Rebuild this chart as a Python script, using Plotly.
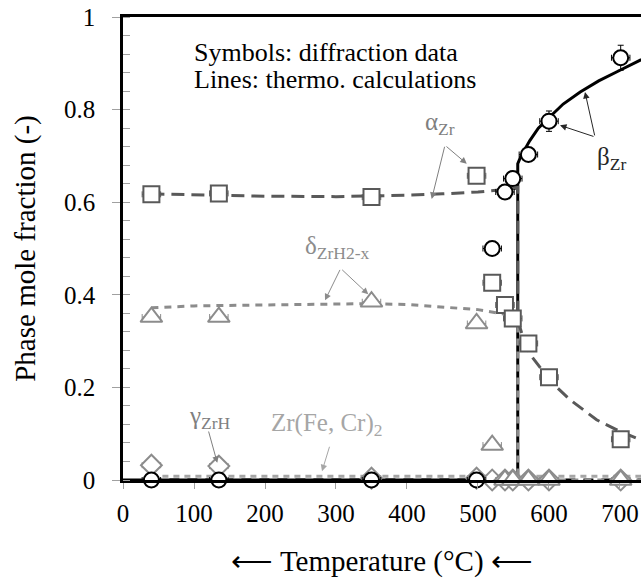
import plotly.graph_objects as go

# ---------------- data ----------------
# Diffraction data (symbols)
beta_T = [40, 135, 350, 498, 520, 538, 549, 571, 600, 701]
beta_f = [0.0, 0.0, 0.0, 0.0, 0.50, 0.622, 0.651, 0.703, 0.775, 0.912]
beta_ey = [0.0, 0.0, 0.0, 0.0, 0.0, 0.0, 0.0, 0.0, 0.022, 0.027]

alpha_T = [40, 135, 350, 498, 520, 538, 549, 571, 600, 701]
alpha_f = [0.617, 0.619, 0.611, 0.657, 0.426, 0.378, 0.349, 0.295, 0.222, 0.088]

delta_T = [40, 135, 350, 498, 520, 538, 549, 571, 600, 701]
delta_f = [0.352, 0.352, 0.385, 0.338, 0.0755, 0.0, 0.0, 0.0, 0.0, 0.0]

gamma_T = [40, 135, 350, 498, 520, 538, 549, 571, 600, 701]
gamma_f = [0.032, 0.030, 0.004, 0.004, 0.0, 0.0, 0.0, 0.0, 0.0, 0.0]

temp_err = [13, 13, 13, 13, 13, 13, 13, 13, 13, 13]

# Thermodynamic calculations (lines)
beta_calc_T = [0, 556, 556, 560, 573, 585, 601, 620, 644, 670, 700, 730]
beta_calc_f = [0, 0, 0.683, 0.698, 0.733, 0.760, 0.784, 0.812, 0.838, 0.862, 0.885, 0.908]

alpha_calc_T = [40, 100, 200, 300, 350, 400, 450, 500, 540, 556, 556, 565, 575, 590, 611, 630, 667, 700, 730]
alpha_calc_f = [0.618, 0.616, 0.613, 0.612, 0.613, 0.615, 0.618, 0.622, 0.628, 0.632,
                0.345, 0.300, 0.268, 0.238, 0.200, 0.173, 0.130, 0.105, 0.086]

delta_calc_T = [40, 100, 200, 300, 350, 400, 450, 500, 530, 556, 556, 730]
delta_calc_f = [0.372, 0.376, 0.378, 0.380, 0.381, 0.379, 0.374, 0.368, 0.360, 0.355, 0.0, 0.0]

gamma_calc_T = [40, 730]
gamma_calc_f = [0.0, 0.0]

laves_calc_T = [40, 730]
laves_calc_f = [0.008, 0.008]

x_ticks = [0, 100, 200, 300, 400, 500, 600, 700]
y_ticks = [0, 0.2, 0.4, 0.6, 0.8, 1]
y_tick_text = ["0", "0.2", "0.4", "0.6", "0.8", "1"]

# ---------------- styling ----------------
FONT = "Times New Roman, Liberation Serif, serif"
BLACK = "#000000"
DGRAY = "#595959"
GRAY = "#8c8c8c"
LGRAY = "#a6a6a6"

fig = go.Figure()

# calculation lines
fig.add_trace(go.Scatter(x=laves_calc_T, y=laves_calc_f, mode="lines",
                         line=dict(color=LGRAY, width=3, dash="6px,5px"), hoverinfo="skip"))
fig.add_trace(go.Scatter(x=gamma_calc_T, y=gamma_calc_f, mode="lines",
                         line=dict(color=BLACK, width=3, dash="10px,8px"), hoverinfo="skip"))
fig.add_trace(go.Scatter(x=beta_calc_T, y=beta_calc_f, mode="lines",
                         line=dict(color=BLACK, width=3), hoverinfo="skip"))
fig.add_trace(go.Scatter(x=delta_calc_T, y=delta_calc_f, mode="lines",
                         line=dict(color=GRAY, width=3, dash="7px,6px"), hoverinfo="skip"))
fig.add_trace(go.Scatter(x=alpha_calc_T, y=alpha_calc_f, mode="lines",
                         line=dict(color=DGRAY, width=3, dash="13px,7px"), hoverinfo="skip"))

# diffraction data symbols
def sym(xs, ys, symbol, color, size, ey=None):
    return go.Scatter(
        x=xs, y=ys, mode="markers",
        marker=dict(symbol=symbol, size=size, color="white",
                    line=dict(color=color, width=2)),
        error_x=dict(type="data", array=temp_err, color=color, thickness=1, width=3),
        error_y=(dict(type="data", array=ey, color=color, thickness=1, width=3)
                 if ey is not None else None),
        cliponaxis=False,
    )

fig.add_trace(sym(gamma_T, gamma_f, "diamond", GRAY, 16))
fig.add_trace(sym(delta_T, delta_f, "triangle-up", GRAY, 19))
fig.add_trace(sym(alpha_T, alpha_f, "square", DGRAY, 16))
fig.add_trace(sym(beta_T, beta_f, "circle", BLACK, 15, beta_ey))

# ---------------- annotations ----------------
ann = []
def label(x, y, text, color, size=25):
    ann.append(dict(x=x, y=y, xref="x", yref="y", text=text, showarrow=False,
                    font=dict(family=FONT, size=size, color=color),
                    xanchor="center", yanchor="middle"))

def arrow(tail, head, color):
    ann.append(dict(x=head[0], y=head[1], ax=tail[0], ay=tail[1],
                    xref="x", yref="y", axref="x", ayref="y",
                    text="", showarrow=True, arrowhead=2, arrowsize=1.3,
                    arrowwidth=1, arrowcolor=color))

ann.append(dict(x=97, y=0.923, xref="x", yref="y", text="Symbols: diffraction data",
                showarrow=False, xanchor="left", yanchor="middle",
                font=dict(family=FONT, size=26, color=BLACK)))
ann.append(dict(x=97, y=0.865, xref="x", yref="y", text="Lines: thermo. calculations",
                showarrow=False, xanchor="left", yanchor="middle",
                font=dict(family=FONT, size=26, color=BLACK)))

label(446.5, 0.770, "α<sub>Zr</sub>", "#7f7f7f")
arrow((453.5, 0.723), (434.8, 0.607), "#7f7f7f")
arrow((453.5, 0.723), (484.2, 0.683), "#7f7f7f")

label(688.7, 0.695, "β<sub>Zr</sub>", "#262626")
arrow((664.8, 0.741), (615.5, 0.766), "#262626")
arrow((664.8, 0.741), (650.7, 0.838), "#262626")

label(302.8, 0.503, "δ<sub>ZrH2-x</sub>", GRAY)
arrow((306.6, 0.457), (284.5, 0.388), GRAY)
arrow((306.6, 0.457), (345.5, 0.401), GRAY)

label(122.5, 0.134, "γ<sub>ZrH</sub>", "#7f7f7f")
arrow((120.0, 0.108), (132.8, 0.037), "#7f7f7f")

label(287, 0.119, "Zr(Fe, Cr)<sub>2</sub>", LGRAY)
arrow((291.5, 0.075), (280.3, 0.019), LGRAY)

fig.update_layout(
    width=641, height=578,
    template="none",
    showlegend=False,
    paper_bgcolor="white", plot_bgcolor="white",
    margin=dict(l=123, r=0, t=17, b=98, pad=0),
    font=dict(family=FONT, size=25, color=BLACK),
    annotations=ann,
    xaxis=dict(
        range=[0, 729.6], tickvals=x_ticks, ticktext=[str(v) for v in x_ticks],
        showgrid=False, zeroline=False, automargin=False,
        showline=True, linecolor=BLACK, linewidth=2.5, mirror=True,
        ticks="outside", ticklen=6, tickcolor="#a0a0a0", tickwidth=1,
        ticklabelstandoff=3,
        tickfont=dict(family=FONT, size=25, color=BLACK),
        title=dict(text="⟵ Temperature (°C) ⟵", standoff=26,
                   font=dict(family=FONT, size=29, color=BLACK)),
    ),
    yaxis=dict(
        range=[0, 1], tickvals=y_ticks, ticktext=y_tick_text,
        showgrid=False, zeroline=False, automargin=False,
        showline=True, linecolor=BLACK, linewidth=2.5,
        ticks="outside", ticklen=8, tickcolor="#a0a0a0", tickwidth=1,
        ticklabelstandoff=12,
        minor=dict(dtick=0.04, ticks="inside", ticklen=7, tickcolor="#a0a0a0", tickwidth=1),
        tickfont=dict(family=FONT, size=25, color=BLACK),
        title=dict(text="Phase mole fraction (-)", standoff=20,
                   font=dict(family=FONT, size=29, color=BLACK)),
    ),
)

fig.write_html("out.html")
